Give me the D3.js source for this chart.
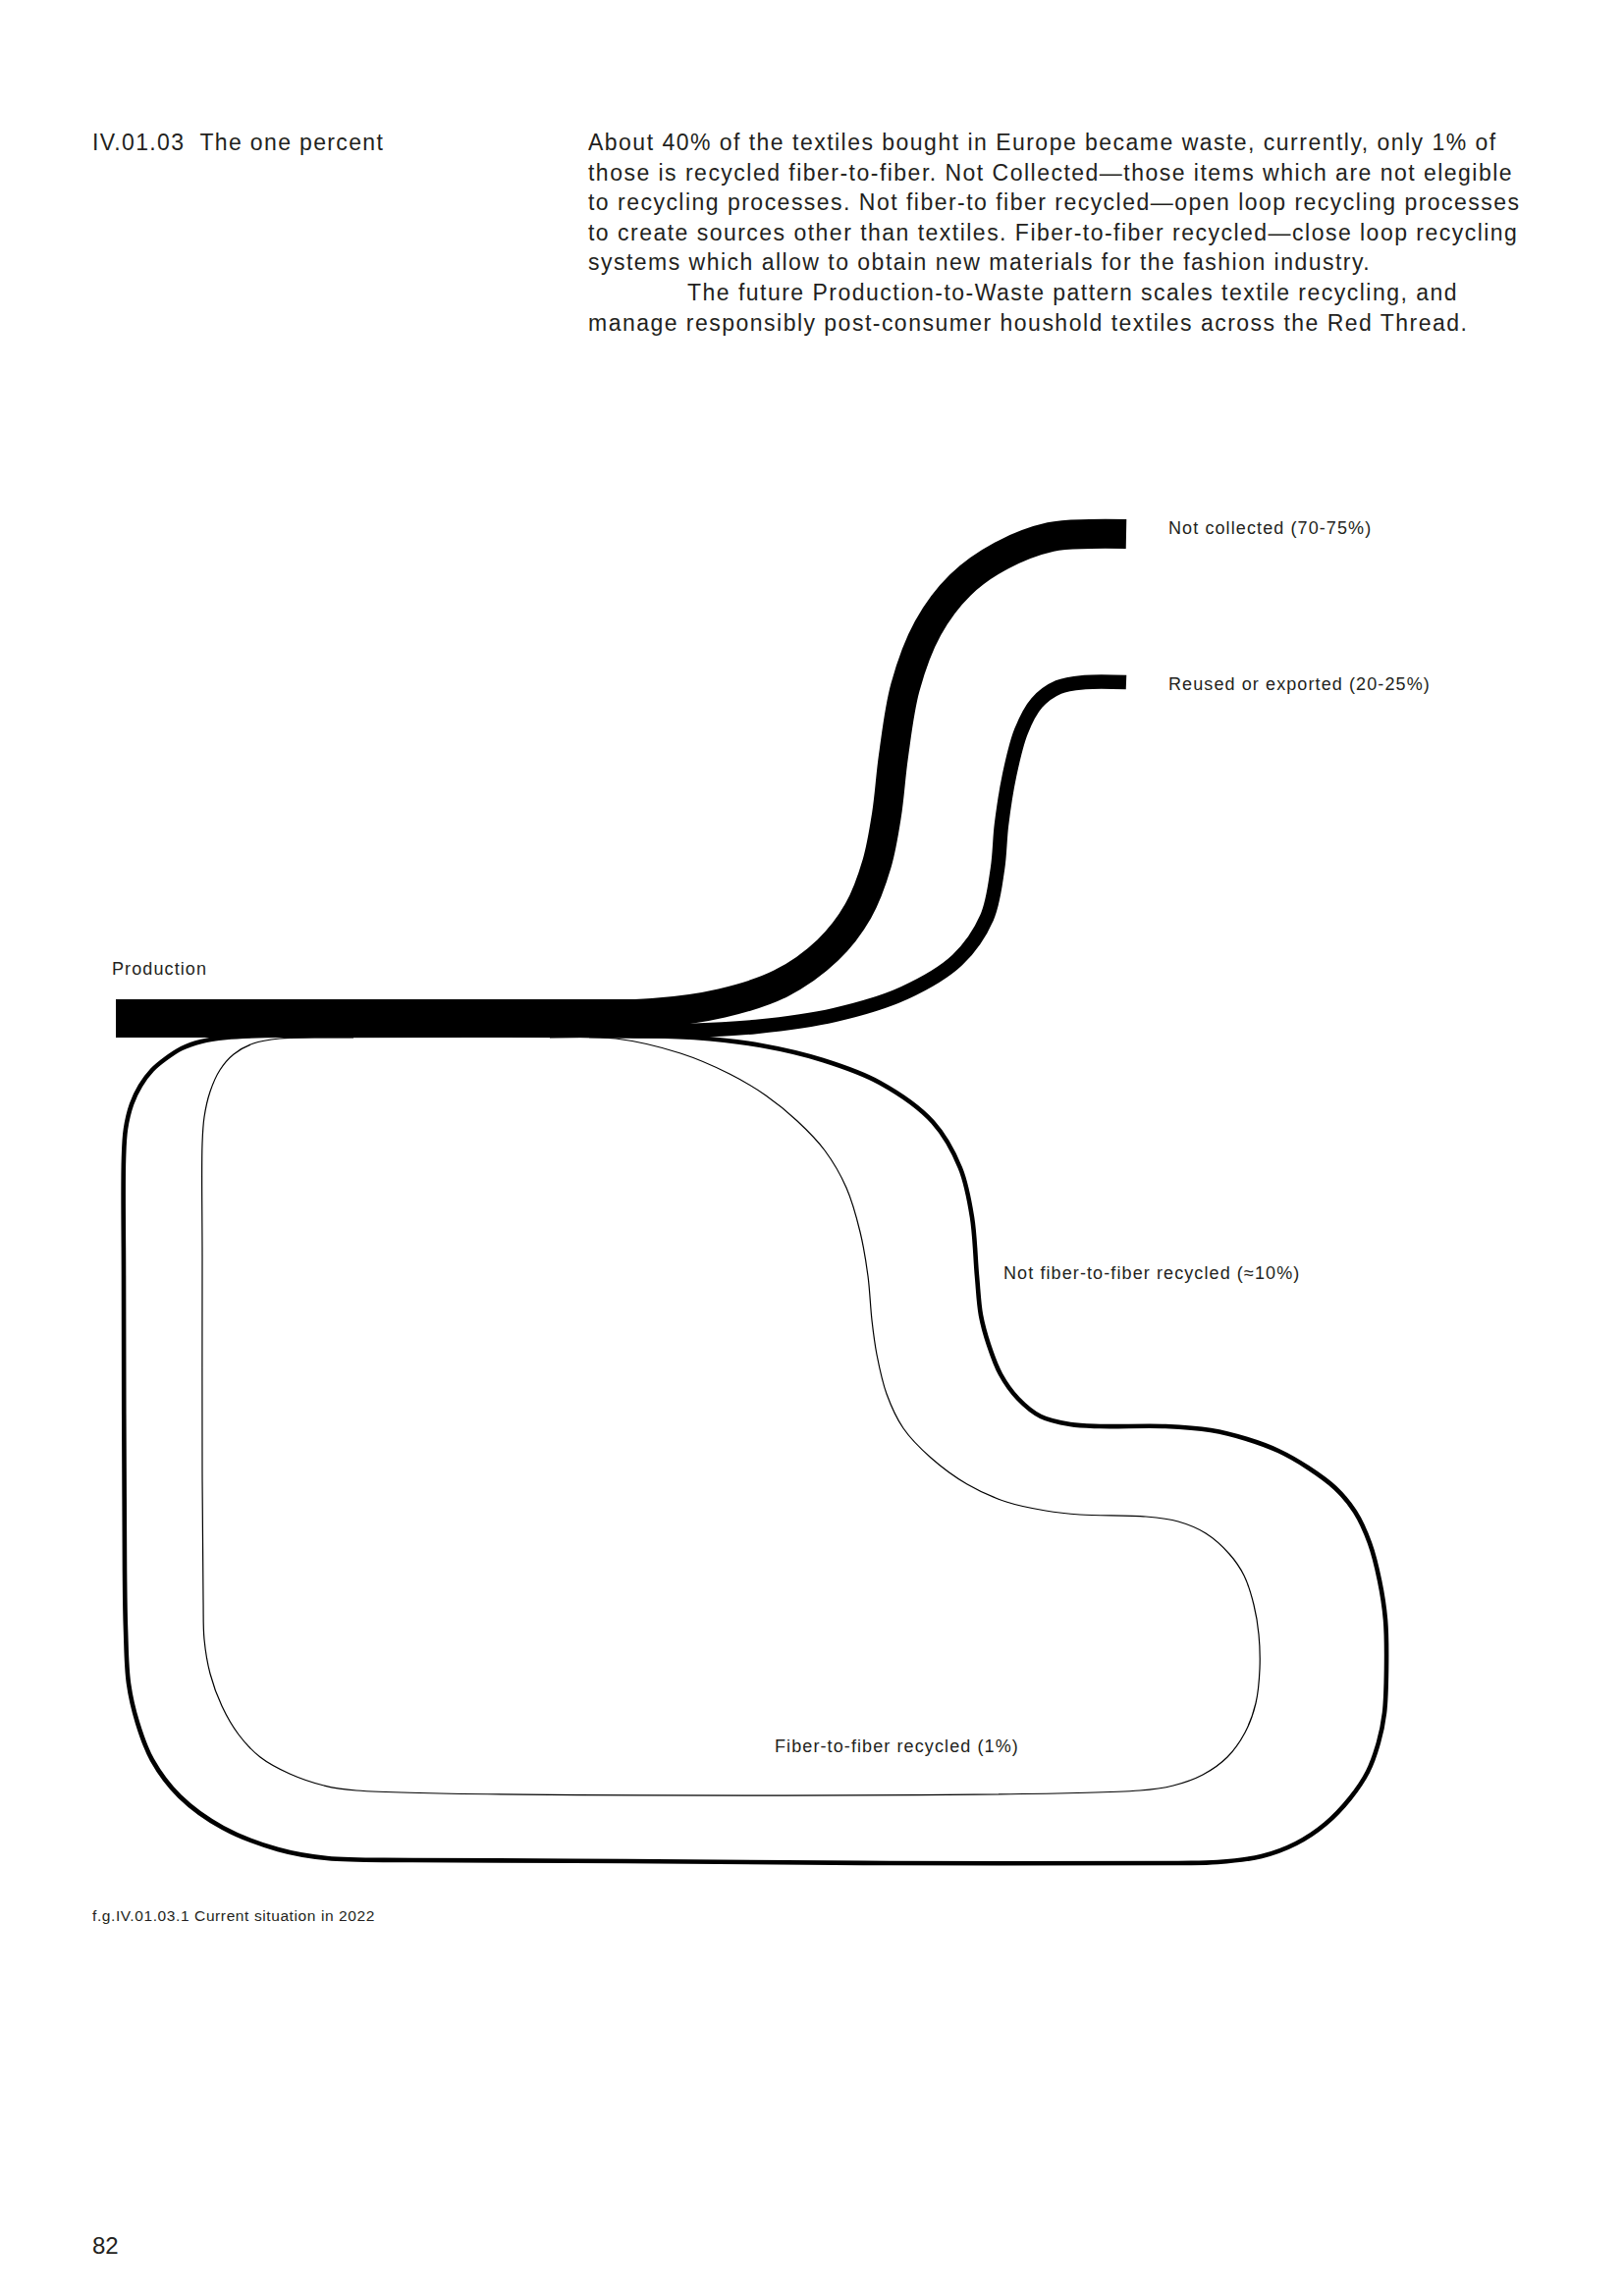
<!DOCTYPE html>
<html>
<head>
<meta charset="utf-8">
<script src="https://cdn.jsdelivr.net/npm/d3@7"></script>
<style>
  html, body { margin: 0; padding: 0; background: #fff; }
  svg text { font-family: "Liberation Sans", Arial, Helvetica, sans-serif; fill: #231f20; white-space: pre; }
</style>
</head>
<body>
<svg id="page"></svg>
<script>
// Data
const sourceName = 'Production';
const sourceShare = 100;
const flowNames = ['notCollected', 'reused', 'notFiber', 'fiber'];
const flowShares = [72.5, 22.5, 10, 1];
const flowLabels = [
    'Not collected (70-75%)',
    'Reused or exported (20-25%)',
    'Not fiber-to-fiber recycled (\u224810%)',
    'Fiber-to-fiber recycled (1%)'
];

const sectionTitle = 'IV.01.03  The one percent';
const introLines = [
    'About 40% of the textiles bought in Europe became waste, currently, only 1% of',
    'those is recycled fiber-to-fiber. Not Collected\u2014those items which are not elegible',
    'to recycling processes. Not fiber-to fiber recycled\u2014open loop recycling processes',
    'to create sources other than textiles. Fiber-to-fiber recycled\u2014close loop recycling',
    'systems which allow to obtain new materials for the fashion industry.',
    'The future Production-to-Waste pattern scales textile recycling, and',
    'manage responsibly post-consumer houshold textiles across the Red Thread.'
];
const captionText = 'f.g.IV.01.03.1 Current situation in 2022';
const pageNumber = '82';

// Layout (hand drawn routes of the flows, page pixels)
const W = 1654, H = 2339;
const barLeft = 118, barRight = 690, barTop = 1018;

const notCollectedRoute = [
    [600, 1033], [665, 1032], [735, 1022], [795, 1002], [843, 968], [874, 928],
    [893, 880], [903, 830], [910, 770], [922, 700], [945, 640], [978, 596],
    [1020, 566], [1070, 547], [1110, 544], [1147, 544]
];
const reusedRoute = [
    [600, 1050], [700, 1050], [770, 1046], [850, 1034], [920, 1012], [975, 978],
    [1005, 935], [1016, 885], [1020, 840], [1028, 790], [1040, 745], [1056, 716],
    [1078, 700], [1105, 695], [1147, 695]
];
const notFiberRoute = [
    [320, 1055], [640, 1055], [707, 1057], [775, 1065], [838, 1080], [896, 1103],
    [950, 1143], [978, 1190], [990, 1240], [995, 1300], [999, 1340], [1007, 1370],
    [1019, 1400], [1037, 1425], [1060, 1443], [1090, 1451], [1120, 1453],
    [1187, 1453], [1233, 1457], [1270, 1466], [1302, 1478], [1332, 1495],
    [1360, 1516], [1380, 1540], [1395, 1572], [1405, 1610], [1411, 1650],
    [1412, 1700], [1410, 1745], [1404, 1775], [1393, 1805], [1375, 1832],
    [1350, 1858], [1320, 1878], [1285, 1891], [1240, 1897], [1200, 1898],
    [906, 1898], [637, 1896], [420, 1895], [333, 1893], [283, 1884],
    [227, 1862], [183, 1830], [155, 1793], [140, 1755], [131, 1715],
    [128, 1660], [127, 1600], [126, 1300], [126, 1180], [128, 1150], [134, 1125],
    [143, 1106], [155, 1090], [168, 1079], [185, 1068], [205, 1061],
    [230, 1057], [270, 1055], [320, 1055]
];
const fiberRoute = [
    [560, 1057], [627, 1058], [693, 1073], [743, 1094], [780, 1116], [812, 1142],
    [840, 1172], [862, 1210], [876, 1255], [884, 1300], [888, 1345], [893, 1380],
    [903, 1420], [920, 1455], [948, 1485], [985, 1512], [1025, 1530],
    [1065, 1539], [1100, 1543], [1167, 1545], [1200, 1550], [1228, 1562],
    [1252, 1583], [1267, 1605], [1277, 1635], [1282, 1665], [1283, 1700],
    [1279, 1735], [1268, 1765], [1250, 1790], [1225, 1808], [1195, 1819],
    [1161, 1824], [363, 1824], [330, 1819], [295, 1807], [265, 1790],
    [243, 1767], [226, 1738], [214, 1705], [208, 1670], [207, 1630],
    [206, 1500], [206, 1280], [206, 1165], [208, 1138], [214, 1112],
    [224, 1090], [238, 1074], [258, 1063], [285, 1058], [320, 1057], [360, 1057]
];
const routes = [notCollectedRoute, reusedRoute, notFiberRoute, fiberRoute];

const labelPos = [[1190, 544], [1190, 703], [1022, 1303], [789, 1785]];

// Scales
const widthScale = d3.scaleLinear()
    .domain([0, 1, 10, 22.5, 72.5, 100])
    .range([0, 1.2, 4.6, 14.5, 30, 39]);

const svg = d3.select('#page')
    .attr('width', W)
    .attr('height', H)
    .attr('viewBox', `0 0 ${W} ${H}`);

svg.append('rect')
    .attr('width', W)
    .attr('height', H)
    .attr('fill', '#fff');

// Header text
svg.append('text')
    .attr('x', 94)
    .attr('y', 153)
    .style('font-size', '23px')
    .style('letter-spacing', '1.35px')
    .text(sectionTitle);

svg.append('g')
    .selectAll('text')
    .data(introLines)
    .join('text')
    .attr('x', (d, i) => i === 5 ? 700 : 599)
    .attr('y', (d, i) => 153 + i * 30.6)
    .style('font-size', '23px')
    .style('letter-spacing', '1.48px')
    .text(d => d);

// Flows
const line = d3.line()
    .curve(d3.curveCatmullRom.alpha(0.5));

const flows = flowNames.map((name, i) => ({
    name: name,
    share: flowShares[i],
    label: flowLabels[i],
    route: routes[i],
    labelAt: labelPos[i]
}));

svg.append('g')
    .attr('class', 'flows')
    .selectAll('path')
    .data(flows)
    .join('path')
    .attr('d', d => line(d.route))
    .attr('fill', 'none')
    .attr('stroke', '#000')
    .attr('stroke-linecap', 'butt')
    .attr('stroke-linejoin', 'round')
    .attr('stroke-width', d => widthScale(d.share));

// Production bar
svg.append('rect')
    .attr('x', barLeft)
    .attr('y', barTop)
    .attr('width', barRight - barLeft)
    .attr('height', widthScale(sourceShare))
    .attr('fill', '#000');

svg.append('text')
    .attr('x', 114)
    .attr('y', 993)
    .style('font-size', '18px')
    .style('letter-spacing', '1.1px')
    .text(sourceName);

// Flow labels
svg.append('g')
    .selectAll('text')
    .data(flows)
    .join('text')
    .attr('x', d => d.labelAt[0])
    .attr('y', d => d.labelAt[1])
    .style('font-size', '18px')
    .style('letter-spacing', '1.1px')
    .text(d => d.label);

// Caption and page number
svg.append('text')
    .attr('x', 94)
    .attr('y', 1957)
    .style('font-size', '15.5px')
    .style('letter-spacing', '0.6px')
    .text(captionText);

svg.append('text')
    .attr('x', 94)
    .attr('y', 2296)
    .style('font-size', '24px')
    .text(pageNumber);
</script>
</body>
</html>
